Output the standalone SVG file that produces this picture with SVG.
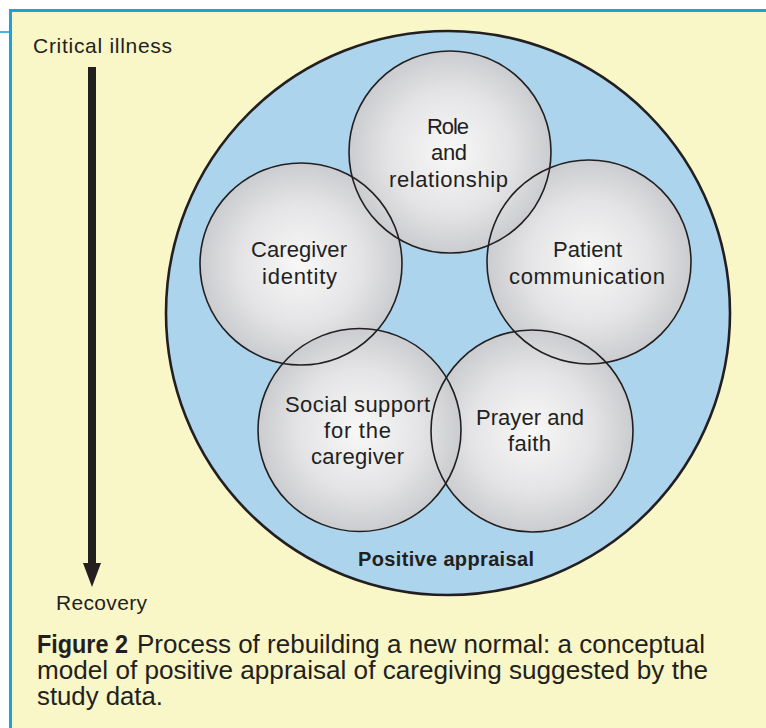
<svg xmlns="http://www.w3.org/2000/svg" width="766" height="728" viewBox="0 0 766 728">
  <style>
    .lbl { font-family: "Liberation Sans", Arial, sans-serif; font-size: 22px; fill: #231f20; text-anchor: middle; }
    .side { font-family: "Liberation Sans", Arial, sans-serif; font-size: 21px; fill: #231f20; }
    .cap { font-family: "Liberation Sans", Arial, sans-serif; font-size: 25px; fill: #231f20; }
    .bubble { fill: url(#grey); stroke: none; }
    .ring { fill: none; stroke: #231f20; stroke-width: 1.6; }
    .rule { stroke: #1ba3d9; fill: none; }
  </style>
  <defs>
    <radialGradient id="grey" cx="0.5" cy="0.5" r="0.5">
      <stop offset="0" stop-color="#f8f8f8"/>
      <stop offset="0.6" stop-color="#e4e4e6"/>
      <stop offset="1" stop-color="#cbcccf"/>
    </radialGradient>
  </defs>

  <rect x="0" y="0" width="766" height="728" fill="#ffffff"/>
  <rect x="10" y="10" width="756" height="718" fill="#f9f6c8"/>
  <line class="rule" x1="9" y1="10.5" x2="766" y2="10.5" stroke-width="3"/>
  <line class="rule" x1="10.5" y1="9" x2="10.5" y2="728" stroke-width="3"/>
  <line class="rule" x1="0" y1="32" x2="10" y2="32" stroke-width="1.6"/>

  <g id="timeline">
    <text class="side" x="33" y="53" textLength="139">Critical illness</text>
    <rect x="88" y="67" width="8" height="498" fill="#231f20"/>
    <polygon points="83,563 101,563 92,587" fill="#231f20"/>
    <text class="side" x="56" y="610" textLength="91">Recovery</text>
  </g>

  <g id="positive-appraisal">
    <circle cx="448" cy="313" r="282" fill="#acd4ed" stroke="#231f20" stroke-width="2.6"/>
    <text x="446" y="566" font-family="'Liberation Sans', Arial, sans-serif" font-size="20" font-weight="bold" fill="#231f20" text-anchor="middle" textLength="176">Positive appraisal</text>
  </g>

  <g id="caregiver-identity">
    <circle class="bubble" cx="301" cy="264" r="101"/>
  </g>
  <g id="patient-communication">
    <circle class="bubble" cx="589" cy="262" r="102"/>
  </g>
  <g id="role-and-relationship">
    <circle class="bubble" cx="450" cy="152" r="101"/>
  </g>
  <g id="prayer-and-faith">
    <circle class="bubble" cx="532" cy="431" r="101"/>
  </g>
  <g id="social-support">
    <circle class="bubble" cx="359.5" cy="430" r="101.5"/>
  </g>

  <g id="outlines">
    <circle class="ring" cx="301" cy="264" r="101"/>
    <circle class="ring" cx="589" cy="262" r="102"/>
    <circle class="ring" cx="450" cy="152" r="101"/>
    <circle class="ring" cx="532" cy="431" r="101"/>
    <circle class="ring" cx="359.5" cy="430" r="101.5"/>
  </g>

  <g id="labels">
    <text class="lbl" x="448" y="134" textLength="42">Role</text>
    <text class="lbl" x="449" y="160" textLength="36">and</text>
    <text class="lbl" x="448.5" y="187" textLength="119">relationship</text>
    <text class="lbl" x="299" y="257" textLength="96">Caregiver</text>
    <text class="lbl" x="299.5" y="284" textLength="75">identity</text>
    <text class="lbl" x="587.5" y="257" textLength="69">Patient</text>
    <text class="lbl" x="587" y="284" textLength="156">communication</text>
    <text class="lbl" x="357.5" y="412" textLength="145">Social support</text>
    <text class="lbl" x="357.5" y="438" textLength="67">for the</text>
    <text class="lbl" x="357.5" y="464" textLength="93">caregiver</text>
    <text class="lbl" x="530" y="425" textLength="108">Prayer and</text>
    <text class="lbl" x="529.5" y="451" textLength="43">faith</text>
  </g>

  <g id="caption">
    <text class="cap" y="653"><tspan x="37" font-weight="bold" textLength="91" lengthAdjust="spacingAndGlyphs">Figure 2</tspan><tspan x="137" textLength="568" lengthAdjust="spacingAndGlyphs">Process of rebuilding a new normal: a conceptual</tspan></text>
    <text class="cap" x="37" y="679" textLength="671" lengthAdjust="spacingAndGlyphs">model of positive appraisal of caregiving suggested by the</text>
    <text class="cap" x="37" y="705" textLength="126" lengthAdjust="spacingAndGlyphs">study data.</text>
  </g>
</svg>
